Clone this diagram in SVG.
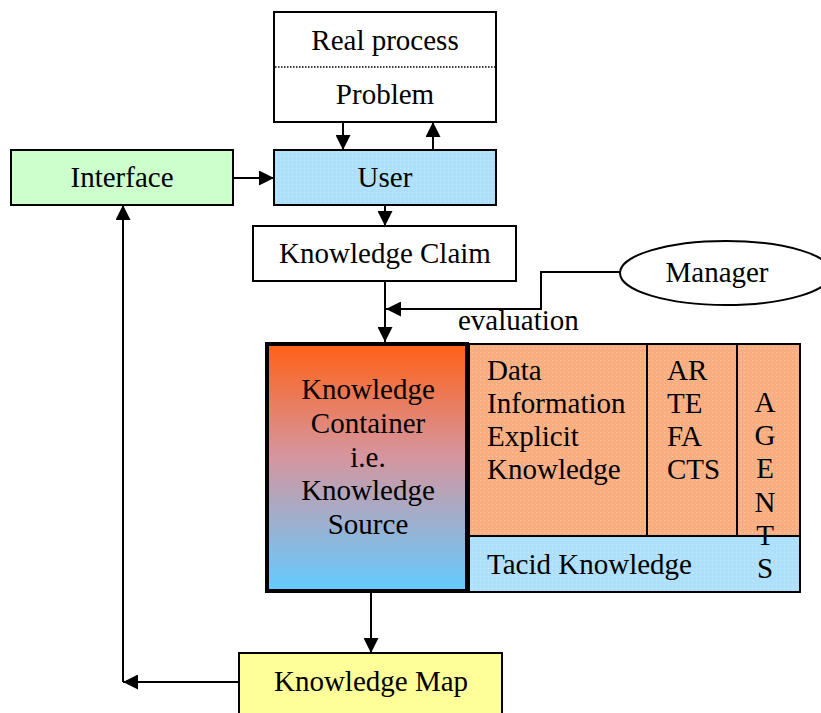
<svg xmlns="http://www.w3.org/2000/svg" width="821" height="713" viewBox="0 0 821 713">
  <style>
    .box { stroke: #000; stroke-width: 2; }
    .lbl { font-family: "Liberation Serif", "Times New Roman", serif; font-size: 29px; fill: #000; }
    .mid { text-anchor: middle; }
    .wire { fill: none; stroke: #000; stroke-width: 2; }
  </style>
  <defs>
    <marker id="arrow" viewBox="0 0 14 14" refX="14" refY="7" markerWidth="15" markerHeight="15" markerUnits="userSpaceOnUse" orient="auto">
      <path d="M0,0 L14,7 L0,14 Z" fill="#000"/>
    </marker>
    <linearGradient id="containerGrad" x1="0" y1="0" x2="0" y2="1">
      <stop offset="0" stop-color="#ff6116"/>
      <stop offset="0.45" stop-color="#d6959e"/>
      <stop offset="1" stop-color="#63cbff"/>
    </linearGradient>
    <pattern id="dotsBlue" width="4" height="4" patternUnits="userSpaceOnUse">
      <rect width="4" height="4" fill="#aee0fb"/>
      <rect width="1" height="1" fill="#c8ebfd"/>
    </pattern>
    <pattern id="dotsOrange" width="4" height="4" patternUnits="userSpaceOnUse">
      <rect width="4" height="4" fill="#f9ae82"/>
      <rect width="1" height="1" fill="#fcc7a6"/>
    </pattern>
  </defs>

  <!-- connectors -->
  <g id="connectors">
    <line class="wire" x1="343" y1="122" x2="343" y2="150" marker-end="url(#arrow)"/>
    <line class="wire" x1="433" y1="150" x2="433" y2="122" marker-end="url(#arrow)"/>
    <line class="wire" x1="233" y1="178" x2="274" y2="178" marker-end="url(#arrow)"/>
    <line class="wire" x1="385" y1="205" x2="385" y2="226" marker-end="url(#arrow)"/>
    <line class="wire" x1="385" y1="281" x2="385" y2="342" marker-end="url(#arrow)"/>
    <polyline class="wire" points="620,272 541,272 541,309 386,309" marker-end="url(#arrow)"/>
    <line class="wire" x1="371" y1="593" x2="371" y2="653" marker-end="url(#arrow)"/>
    <line class="wire" x1="239" y1="682" x2="123" y2="682" marker-end="url(#arrow)"/>
    <line class="wire" x1="123" y1="682" x2="123" y2="205" marker-end="url(#arrow)"/>
    <text class="lbl" x="458" y="330">evaluation</text>
  </g>

  <!-- real process / problem -->
  <g id="real-process">
    <rect class="box" x="274" y="12" width="222" height="110" fill="#fff"/>
    <line x1="275" y1="67" x2="495" y2="67" stroke="#000" stroke-width="1.5" stroke-dasharray="1.5 1.5"/>
    <text class="lbl mid" x="385" y="50">Real process</text>
    <text class="lbl mid" x="385" y="104">Problem</text>
  </g>

  <g id="interface">
    <rect class="box" x="11" y="150" width="222" height="55" fill="#ccffcc"/>
    <text class="lbl mid" x="122" y="187">Interface</text>
  </g>

  <g id="user">
    <rect class="box" x="274" y="150" width="222" height="55" fill="url(#dotsBlue)"/>
    <text class="lbl mid" x="385" y="187">User</text>
  </g>

  <g id="knowledge-claim">
    <rect class="box" x="253" y="226" width="263" height="55" fill="#fff"/>
    <text class="lbl mid" x="385" y="263">Knowledge Claim</text>
  </g>

  <g id="manager">
    <ellipse class="box" cx="726" cy="273" rx="106" ry="32" fill="#fff"/>
    <text class="lbl mid" x="717" y="282">Manager</text>
  </g>

  <!-- knowledge types -->
  <g id="explicit-knowledge">
    <rect class="box" x="469" y="344" width="331" height="192" fill="url(#dotsOrange)"/>
    <line x1="647" y1="344" x2="647" y2="536" stroke="#000" stroke-width="2"/>
    <line x1="737" y1="344" x2="737" y2="536" stroke="#000" stroke-width="2"/>
    <text class="lbl" x="487" y="380">Data</text>
    <text class="lbl" x="487" y="413">Information</text>
    <text class="lbl" x="487" y="446">Explicit</text>
    <text class="lbl" x="487" y="479">Knowledge</text>
    <text class="lbl" x="667" y="380">AR</text>
    <text class="lbl" x="667" y="413">TE</text>
    <text class="lbl" x="667" y="446">FA</text>
    <text class="lbl" x="667" y="479">CTS</text>
  </g>

  <g id="tacit-knowledge">
    <rect class="box" x="469" y="536" width="331" height="56" fill="url(#dotsBlue)"/>
    <text class="lbl" x="487" y="574">Tacid Knowledge</text>
  </g>

  <g id="agents">
    <text class="lbl mid" x="765" y="412">A</text>
    <text class="lbl mid" x="765" y="445">G</text>
    <text class="lbl mid" x="765" y="478">E</text>
    <text class="lbl mid" x="765" y="512">N</text>
    <text class="lbl mid" x="765" y="545">T</text>
    <text class="lbl mid" x="765" y="578">S</text>
  </g>

  <g id="knowledge-container">
    <rect x="267" y="344" width="200" height="247" fill="url(#containerGrad)" stroke="#000" stroke-width="4"/>
    <text class="lbl mid" x="368" y="399">Knowledge</text>
    <text class="lbl mid" x="368" y="433">Container</text>
    <text class="lbl mid" x="368" y="467">i.e.</text>
    <text class="lbl mid" x="368" y="500">Knowledge</text>
    <text class="lbl mid" x="368" y="534">Source</text>
  </g>

  <g id="knowledge-map">
    <rect class="box" x="239" y="653" width="263" height="70" fill="#ffff99"/>
    <text class="lbl mid" x="371" y="691">Knowledge Map</text>
  </g>
</svg>
